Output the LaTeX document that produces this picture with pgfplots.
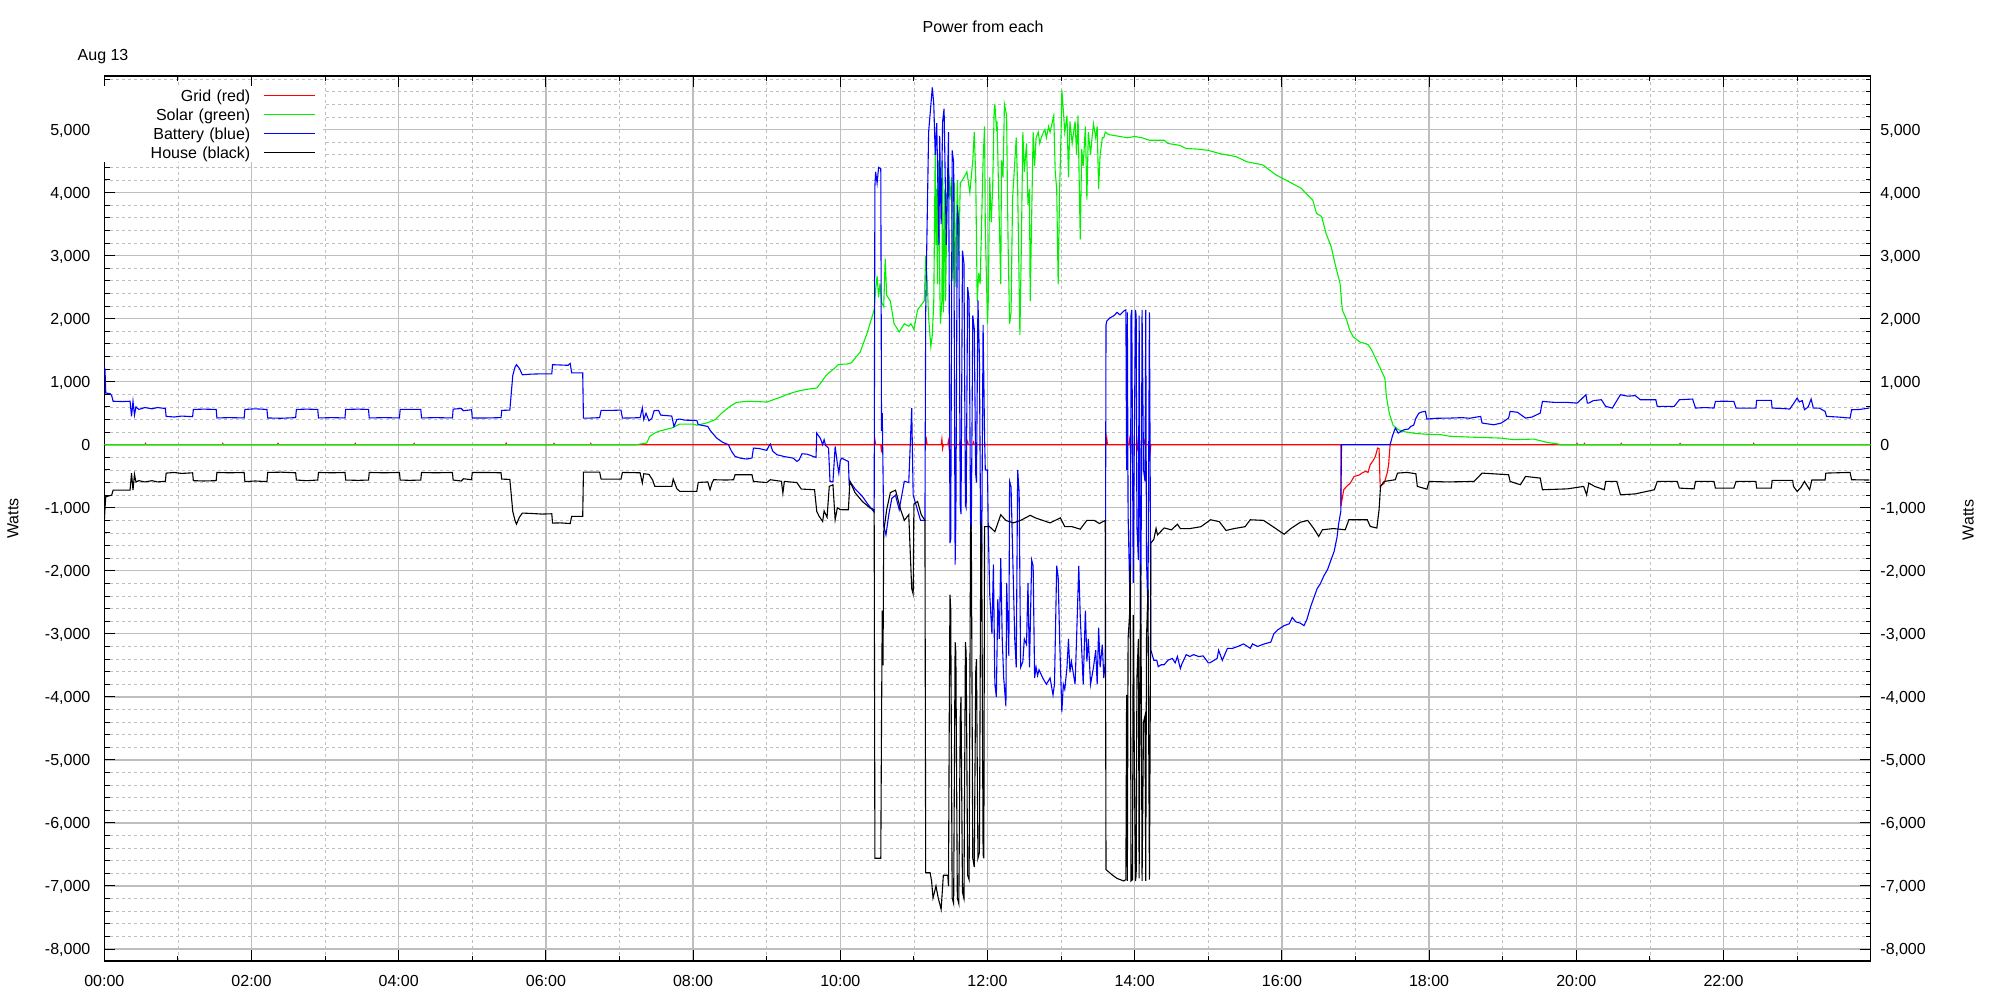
\documentclass[border=0pt]{standalone}
\usepackage{fontspec}
\setmainfont{Liberation Sans}
\usepackage{pgfplots}
\pgfplotsset{compat=1.18}
\definecolor{gpred}{RGB}{255,0,0}
\definecolor{gpgreen}{RGB}{0,240,0}
\definecolor{gpblue}{RGB}{0,0,255}
\definecolor{gridgray}{RGB}{190,190,190}
\begin{document}
\begin{tikzpicture}[font=\fontsize{8pt}{9.6pt}\selectfont]
\path[use as bounding box] (-52.15pt,-19.5pt) rectangle (947.85pt,480.5pt);
\begin{axis}[
  scale only axis, width=883.2pt, height=442.5pt,
  xmin=0, xmax=24, ymin=-8190, ymax=5850,
  xtick={0,2,...,22},
  xticklabels={00:00,02:00,04:00,06:00,08:00,10:00,12:00,14:00,16:00,18:00,20:00,22:00},
  minor xtick={1,3,...,23},
  ytick={-8000,-7000,...,5000},
  yticklabels={{-8,000},{-7,000},{-6,000},{-5,000},{-4,000},{-3,000},{-2,000},{-1,000},0,{1,000},{2,000},{3,000},{4,000},{5,000}},
  minor ytick={-8000,-7800,...,5800},
  grid=both,
  major grid style={draw=gridgray, line width=0.65pt},
  minor grid style={draw=gridgray, line width=0.4pt, dash pattern=on 1.5pt off 1.5pt},
  tick align=inside, xtick pos=both, ytick pos=both,
  xticklabel pos=lower, yticklabel pos=left,
  major tick length=5.3pt, minor tick length=2.6pt,
  tick style={black, line width=0.5pt},
  axis line style={black, line width=0.6pt},
  yticklabel style={anchor=east, inner sep=0pt, xshift=-6.8pt, text height=5.8pt, text depth=0pt},
  xticklabel style={anchor=north, inner sep=0pt, yshift=-6.65pt, text height=5.8pt, text depth=0pt},
  legend plot pos=right,
  legend image code/.code={\draw[#1] (0pt,0pt) -- (25.5pt,0pt); \path[draw=none] (0pt,0pt) -- (29.5pt,0pt);},
  legend style={at={(0,1)}, anchor=north west, yshift=-5pt, draw=none, fill=white,
    inner sep=0pt, outer sep=0pt, row sep=0pt, column sep=6.7pt,
    nodes={inner sep=0pt, text width=73pt, align=right, text height=7.6pt, text depth=1.9pt}},
  every axis plot/.append style={line width=0.55pt},
]
% Grid (red)
\addplot[gpred] coordinates {
(0,0) (0.55,0) (0.56,20) (0.57,0) (1.60,0) (1.61,20) (1.62,0) (2.35,0) (2.36,20) (2.37,0) (3.40,0) (3.41,20) (3.42,0)
(4.20,0) (4.21,20) (4.22,0) (5.45,0) (5.46,25) (5.47,0) (6.10,0) (6.11,20) (6.12,0) (6.60,0) (6.61,20) (6.62,0)
(10.46,0) (10.47,80) (10.48,0) (10.55,0) (10.56,-120) (10.57,0) (11.16,0) (11.17,80) (11.18,0)
(11.37,0) (11.38,90) (11.39,-60) (11.40,0) (11.46,0) (11.47,60) (11.48,-70) (11.49,0)
(11.62,0) (11.63,50) (11.64,-50) (11.65,0) (11.72,0) (11.73,50) (11.74,0) (11.80,0) (11.81,40) (11.82,0)
(13.61,0) (13.62,110) (13.63,0) (13.92,0) (13.93,80) (13.94,-50) (13.95,0) (14.02,0) (14.03,80) (14.04,-60) (14.05,0)
(14.12,0) (14.13,60) (14.14,0) (14.20,0) (14.21,-110) (14.22,0)
(16.80,0) (16.801,-979) (16.84,-714) (16.88,-660) (16.93,-608) (16.98,-503) (17.05,-480) (17.10,-440) (17.14,-423)
(17.17,-440) (17.20,-317) (17.24,-250) (17.27,-185) (17.30,-53) (17.32,-60) (17.335,-661) (17.39,-608) (17.43,-450)
(17.45,-317) (17.47,0) (20.00,0) (20.01,20) (20.02,0) (20.10,0) (20.11,20) (20.12,0) (20.60,0) (20.61,20) (20.62,0)
(21.40,0) (21.41,20) (21.42,0) (22.40,0) (22.41,20) (22.42,0) (24,0)
};
\addlegendentry{Grid (red)}
% Solar (green)
\addplot[gpgreen] coordinates {
(0,0) (7.05,0) (7.23,0) (7.30,15) (7.37,26) (7.41,132) (7.47,180) (7.53,212) (7.62,240) (7.71,265) (7.82,328) (8.00,328)
(8.05,310) (8.18,344) (8.30,397) (8.39,503) (8.50,608) (8.59,672) (8.70,685) (8.82,688) (9.00,677) (9.09,714) (9.18,750)
(9.27,794) (9.36,830) (9.45,857) (9.55,880) (9.68,900) (9.75,1005) (9.80,1090) (9.84,1137) (9.91,1200) (9.97,1270)
(10.05,1280) (10.09,1280) (10.15,1300) (10.27,1470) (10.37,1790) (10.46,2140) (10.48,2460) (10.50,2680) (10.52,2340)
(10.54,2560) (10.56,2260) (10.59,2190) (10.61,2950) (10.63,2370) (10.68,2280) (10.73,1920) (10.80,1790) (10.87,1920)
(10.93,1880) (10.96,1920) (11.00,1830) (11.05,2140) (11.14,2280) (11.16,2990) (11.18,2630) (11.20,2010) (11.23,1560)
(11.25,1740) (11.27,2280) (11.29,4690) (11.30,3170) (11.31,4060) (11.32,2550) (11.33,4510) (11.34,3440) (11.36,1920)
(11.38,2280) (11.39,4510) (11.40,2100) (11.42,4060) (11.43,2280) (11.45,3890) (11.47,4420) (11.49,3890) (11.51,4240)
(11.53,2600) (11.55,4150) (11.57,2500) (11.59,4200) (11.61,3000) (11.63,4150) (11.68,4240) (11.72,4330) (11.76,4000)
(11.80,4510) (11.82,4960) (11.84,4240) (11.86,2280) (11.88,2720) (11.90,2550) (11.94,4510) (11.96,5050) (11.97,3440)
(12.00,1920) (12.01,2280) (12.03,4240) (12.05,3530) (12.07,4060) (12.09,5310) (12.10,5400) (12.12,5050) (12.13,5130)
(12.15,4060) (12.18,2550) (12.19,4510) (12.21,4240) (12.23,5400) (12.26,5220) (12.27,4060) (12.28,3170) (12.30,1920)
(12.32,2100) (12.34,3890) (12.39,4870) (12.41,4060) (12.44,1740) (12.46,3170) (12.48,4960) (12.50,4330) (12.53,4780)
(12.55,3800) (12.57,4060) (12.58,2280) (12.62,4960) (12.64,4420) (12.66,4870) (12.69,4960) (12.71,4780) (12.73,4870)
(12.76,4960) (12.78,5000) (12.80,4870) (12.83,5050) (12.85,4960) (12.90,5220) (12.92,4330) (12.94,4060) (12.96,2545)
(12.98,4060) (13.00,4960) (13.01,5630) (13.03,5310) (13.05,4960) (13.08,5220) (13.10,4240) (13.12,5130) (13.15,4780)
(13.17,4960) (13.19,5130) (13.21,4600) (13.23,5220) (13.26,3260) (13.28,4690) (13.30,4420) (13.33,5050) (13.35,3890)
(13.37,4960) (13.40,4600) (13.42,4870) (13.44,5090) (13.47,4870) (13.49,5050) (13.51,4060) (13.53,4600) (13.56,4870)
(13.58,4870) (13.60,4960) (13.65,4920) (13.75,4900) (13.90,4870) (14.00,4890) (14.10,4870) (14.20,4830) (14.40,4830)
(14.45,4780) (14.61,4750) (14.70,4700) (14.85,4690) (15.00,4670) (15.15,4620) (15.38,4570) (15.52,4490) (15.74,4440)
(15.92,4280) (16.10,4170) (16.26,4070) (16.35,3960) (16.42,3880) (16.47,3670) (16.54,3620) (16.60,3350) (16.67,3140)
(16.72,2880) (16.79,2560) (16.82,2140) (16.88,1980) (16.92,1820) (16.97,1710) (17.06,1630) (17.17,1590) (17.22,1500)
(17.33,1230) (17.40,1050) (17.42,760) (17.46,495) (17.51,310) (17.58,240) (17.67,205) (17.83,177) (18.05,161) (18.16,159)
(18.28,135) (18.54,122) (18.97,106) (19.15,80) (19.42,90) (19.60,37) (19.76,10) (19.79,0) (24,0)
};
\addlegendentry{Solar (green)}
% Battery (blue)
\addplot[gpblue] coordinates {
(0.00,1250) (0.01,1180) (0.02,820) (0.08,810) (0.10,780) (0.12,690) (0.25,685) (0.35,690) (0.37,450) (0.39,690) (0.41,470)
(0.43,600) (0.47,560) (0.55,590) (0.65,570) (0.72,590) (0.83,575) (0.84,450) (0.95,440) (1.05,455) (1.20,445) (1.21,560)
(1.35,565) (1.52,560) (1.53,425) (1.70,430) (1.90,425) (1.91,560) (2.05,570) (2.21,560) (2.22,425) (2.40,420) (2.60,430)
(2.61,560) (2.75,565) (2.90,560) (2.91,425) (3.10,430) (3.27,425) (3.28,560) (3.45,565) (3.59,560) (3.60,425) (3.80,430)
(4.01,425) (4.02,560) (4.15,560) (4.30,560) (4.31,425) (4.50,430) (4.73,425) (4.74,565) (4.85,575) (4.88,540) (4.99,555)
(5.00,425) (5.20,425) (5.39,430) (5.40,545) (5.51,550) (5.55,1100) (5.58,1230) (5.60,1270) (5.64,1210) (5.68,1110)
(5.80,1120) (5.95,1125) (6.08,1125) (6.09,1270) (6.20,1265) (6.30,1260) (6.33,1290) (6.35,1140) (6.50,1140) (6.51,423)
(6.60,423) (6.73,430) (6.75,545) (6.90,545) (7.02,550) (7.04,423) (7.15,425) (7.28,430) (7.31,585) (7.33,400) (7.36,500)
(7.40,380) (7.44,420) (7.47,540) (7.53,545) (7.56,470) (7.71,455) (7.74,290) (7.78,400) (7.82,407) (7.89,390) (8.05,386)
(8.07,320) (8.20,290) (8.23,230) (8.32,106) (8.40,40) (8.48,0) (8.52,-100) (8.57,-185) (8.65,-215) (8.73,-227) (8.80,-210)
(8.82,-53) (8.90,-60) (9.00,-90) (9.03,-20) (9.05,10) (9.08,-100) (9.14,-159) (9.25,-190) (9.36,-212) (9.41,-265)
(9.44,-240) (9.48,-143) (9.55,-150) (9.63,-185) (9.67,-200) (9.68,185) (9.70,150) (9.73,100) (9.76,0) (9.78,80) (9.80,-10)
(9.84,-53) (9.86,-582) (9.90,-590) (9.93,-26) (9.96,-300) (9.98,-450) (10.00,-250) (10.02,-212) (10.08,-250) (10.11,-265)
(10.12,-610) (10.13,-580) (10.20,-700) (10.30,-820) (10.37,-937) (10.46,-1070) (10.47,4100) (10.48,4330) (10.50,4150)
(10.52,4400) (10.55,4380) (10.56,220) (10.57,500) (10.59,-1295) (10.62,-1430) (10.66,-1100) (10.70,-850) (10.75,-800)
(10.80,-1030) (10.87,-580) (10.93,-600) (10.97,580) (10.99,-800) (11.04,-1000) (11.09,-1200) (11.15,-1200) (11.16,2100)
(11.18,3530) (11.20,4960) (11.25,5670) (11.27,5400) (11.29,4600) (11.31,5100) (11.34,3170) (11.35,4900) (11.37,3500)
(11.39,5130) (11.41,5330) (11.44,3170) (11.47,4960) (11.48,2400) (11.49,-1560) (11.50,-1500) (11.52,4670) (11.54,4480)
(11.56,-1900) (11.57,-1200) (11.59,3800) (11.61,3500) (11.63,-960) (11.64,-1100) (11.66,3080) (11.68,2870) (11.70,-960)
(11.71,-1000) (11.73,2500) (11.75,2300) (11.77,-1250) (11.78,-1300) (11.80,2050) (11.82,1840) (11.84,-470) (11.85,-600)
(11.87,2290) (11.89,1390) (11.91,-2070) (11.92,-1900) (11.94,1900) (11.96,130) (11.97,-400) (12.00,-400)
(12.01,-1300) (12.03,-2370) (12.06,-3000) (12.08,-1900) (12.10,-3800)
(12.12,-4000) (12.14,-2450) (12.16,-3080) (12.18,-1800) (12.20,-3080) (12.22,-3700) (12.25,-4150) (12.26,-2190)
(12.27,-2600) (12.29,-3350) (12.30,-580) (12.32,-670) (12.37,-3080) (12.39,-3530) (12.41,-400) (12.43,-760) (12.45,-3530)
(12.48,-3440) (12.50,-3080) (12.53,-3170) (12.55,-2190) (12.57,-3530) (12.60,-1830) (12.62,-1920) (12.64,-3700)
(12.66,-3530) (12.68,-3660) (12.70,-3570) (12.75,-3700) (12.80,-3800) (12.85,-3700) (12.89,-3970) (12.91,-3800)
(12.94,-1920) (12.96,-2100) (12.98,-3080) (13.01,-4240) (13.03,-3800) (13.05,-3880) (13.08,-3530) (13.10,-3080)
(13.12,-3610) (13.14,-3440) (13.19,-3800) (13.21,-3080) (13.24,-1920) (13.26,-2720) (13.30,-3800) (13.33,-2630)
(13.35,-3440) (13.37,-3080) (13.40,-3800) (13.44,-3530) (13.47,-3260) (13.49,-3800) (13.51,-2900) (13.53,-3530)
(13.56,-3170) (13.58,-3700) (13.60,-3440) (13.61,1900) (13.62,1960) (13.66,2010) (13.72,2050) (13.76,2100) (13.80,2060)
(13.85,2120) (13.88,2140) (13.89,-400) (13.90,2100) (13.91,-1100) (13.93,-2190) (13.94,-3080) (13.95,2050) (13.96,2140)
(13.98,-2190) (13.99,-580) (14.01,2140) (14.02,2050) (14.03,-1300) (14.05,-1830) (14.06,2050) (14.08,-3080) (14.09,-940)
(14.10,2140) (14.12,-400) (14.14,-580) (14.15,2140) (14.16,-1830) (14.18,-2630) (14.20,2100) (14.21,-400) (14.22,-3260)
(14.26,-3420) (14.30,-3420) (14.32,-3520) (14.36,-3490) (14.40,-3490) (14.45,-3420) (14.51,-3390) (14.55,-3460)
(14.58,-3360) (14.62,-3550) (14.64,-3480) (14.70,-3330) (14.75,-3360) (14.80,-3330) (14.87,-3360) (14.93,-3350)
(15.00,-3460) (15.02,-3460) (15.12,-3390) (15.14,-3260) (15.19,-3420) (15.26,-3230) (15.33,-3230) (15.40,-3200)
(15.48,-3160) (15.57,-3230) (15.60,-3160) (15.67,-3200) (15.76,-3160) (15.85,-3130) (15.89,-3000) (15.94,-2940)
(16.03,-2870) (16.10,-2840) (16.14,-2740) (16.19,-2810) (16.25,-2830) (16.30,-2870) (16.34,-2770) (16.39,-2570)
(16.43,-2440) (16.48,-2280) (16.52,-2210) (16.57,-2080) (16.62,-1980) (16.66,-1850) (16.71,-1690) (16.75,-1460)
(16.77,-1260) (16.80,-1060) (16.81,0) (17.47,0) (17.50,132) (17.54,265) (17.58,185) (17.62,215) (17.66,238) (17.72,250)
(17.75,290) (17.79,310) (17.82,420) (17.86,500) (17.90,520) (17.95,530) (17.97,407) (18.10,420) (18.29,423) (18.45,430)
(18.55,420) (18.70,450) (18.72,344) (18.80,330) (18.88,317) (18.98,344) (19.08,423) (19.10,529) (19.20,515) (19.31,423)
(19.40,440) (19.51,503) (19.54,688) (19.70,672) (19.88,672) (20.01,660) (20.06,714) (20.13,794) (20.15,661) (20.17,661)
(20.23,700) (20.34,714) (20.40,608) (20.49,582) (20.53,661) (20.60,794) (20.70,770) (20.80,780) (20.87,714) (21.00,714)
(21.08,714) (21.10,608) (21.25,608) (21.33,608) (21.40,714) (21.58,725) (21.62,582) (21.75,590) (21.87,582) (21.89,688)
(22.00,690) (22.14,688) (22.17,582) (22.30,582) (22.44,582) (22.45,704) (22.55,704) (22.65,704) (22.66,582) (22.80,575)
(22.90,566) (22.95,650) (23.00,740) (23.03,680) (23.07,700) (23.10,555) (23.15,600) (23.19,725) (23.22,582) (23.30,582)
(23.38,529) (23.40,450) (23.55,440) (23.72,423) (23.74,555) (23.85,560) (23.98,582)
};
\addlegendentry{Battery (blue)}
% House (black)
\addplot[black] coordinates {
(0.00,-1220) (0.01,-1000) (0.02,-825) (0.10,-800) (0.12,-720) (0.35,-720) (0.37,-450) (0.39,-720) (0.41,-470) (0.43,-590)
(0.47,-570) (0.55,-590) (0.65,-570) (0.72,-590) (0.83,-580) (0.84,-450) (0.95,-440) (1.05,-455) (1.20,-445) (1.21,-570)
(1.35,-575) (1.52,-570) (1.53,-440) (1.70,-445) (1.90,-440) (1.91,-585) (2.05,-575) (2.21,-585) (2.22,-440) (2.40,-435)
(2.60,-445) (2.61,-560) (2.75,-570) (2.90,-560) (2.91,-440) (3.10,-445) (3.27,-440) (3.28,-560) (3.45,-565) (3.59,-560)
(3.60,-440) (3.80,-445) (4.01,-440) (4.02,-560) (4.15,-565) (4.30,-560) (4.31,-440) (4.50,-445) (4.73,-440) (4.74,-560)
(4.85,-575) (4.88,-540) (4.99,-555) (5.00,-440) (5.20,-440) (5.39,-445) (5.40,-545) (5.51,-550) (5.55,-1058) (5.58,-1200)
(5.60,-1260) (5.64,-1150) (5.68,-1084) (5.80,-1090) (5.95,-1100) (6.08,-1095) (6.09,-1243) (6.20,-1240) (6.33,-1250)
(6.35,-1137) (6.50,-1137) (6.51,-434) (6.73,-434) (6.75,-545) (7.02,-545) (7.04,-439) (7.28,-445) (7.31,-608) (7.33,-460)
(7.40,-470) (7.45,-560) (7.48,-661) (7.71,-661) (7.73,-545) (7.78,-700) (7.82,-740) (8.05,-740) (8.07,-598) (8.20,-590)
(8.23,-714) (8.26,-600) (8.28,-555) (8.45,-560) (8.55,-555) (8.57,-476) (8.80,-476) (8.82,-582) (9.00,-600) (9.05,-555)
(9.20,-580) (9.22,-767) (9.24,-582) (9.41,-600) (9.47,-703) (9.65,-714) (9.68,-1058) (9.71,-1130) (9.76,-1217) (9.78,-1050)
(9.82,-1150) (9.85,-661) (9.90,-635) (9.93,-1190) (9.96,-1000) (10.00,-1030) (10.04,-1031) (10.11,-1031) (10.13,-580)
(10.20,-760) (10.30,-900) (10.40,-1000) (10.46,-1030) (10.47,-6560) (10.55,-6560) (10.56,-4420) (10.57,-2630) (10.58,-3500)
(10.59,-1380) (10.63,-1030) (10.68,-760) (10.75,-720) (10.82,-1030) (10.87,-1200) (10.93,-1110) (10.97,-2280) (10.99,-2370)
(11.00,-940) (11.05,-900) (11.10,-1110) (11.15,-1200) (11.16,-6790) (11.22,-6790) (11.24,-6920) (11.26,-7190) (11.30,-7000)
(11.33,-7190) (11.37,-7370) (11.40,-6830) (11.46,-6830) (11.47,-7000) (11.48,-4420) (11.49,-2380) (11.50,-2600)
(11.52,-7190) (11.54,-7280) (11.56,-3130) (11.57,-3300) (11.59,-7190) (11.61,-7280) (11.63,-4320) (11.64,-4000)
(11.66,-7100) (11.68,-7200) (11.70,-3130) (11.71,-3300) (11.73,-6830) (11.75,-6900) (11.77,-1250) (11.78,-1400)
(11.80,-6560) (11.82,-6700) (11.84,-3600) (11.85,-3400) (11.87,-6560) (11.89,-6470) (11.91,-1250) (11.92,-1300)
(11.94,-6500) (11.95,-6560) (11.96,-1300) (12.00,-1300)
(12.02,-1290) (12.10,-1380) (12.18,-1110) (12.25,-1200) (12.35,-1240) (12.45,-1200) (12.58,-1120) (12.65,-1160)
(12.75,-1200) (12.85,-1240) (12.99,-1160) (13.05,-1300) (13.15,-1300) (13.26,-1340) (13.35,-1200) (13.45,-1200)
(13.52,-1250) (13.60,-1200) (13.61,-6740) (13.70,-6830) (13.76,-6880) (13.85,-6920) (13.88,-6900) (13.89,-3970)
(13.90,-6920) (13.91,-3080) (13.93,-2700) (13.94,-1900) (13.95,-6920) (13.97,-6900) (13.98,-2700) (13.99,-4300)
(14.01,-6920) (14.02,-6830) (14.03,-3700) (14.05,-3080) (14.06,-6880) (14.08,-1900) (14.09,-3900) (14.10,-6920)
(14.12,-4400) (14.14,-4300) (14.15,-6920) (14.16,-3080) (14.18,-2300) (14.20,-6900) (14.21,-4500) (14.22,-1560)
(14.26,-1500) (14.29,-1325) (14.31,-1430) (14.40,-1320) (14.50,-1350) (14.58,-1260) (14.62,-1330) (14.75,-1330)
(14.90,-1300) (15.03,-1190) (15.15,-1220) (15.24,-1360) (15.35,-1330) (15.50,-1300) (15.57,-1190) (15.75,-1200)
(15.91,-1325) (16.03,-1420) (16.12,-1330) (16.25,-1230) (16.35,-1200) (16.43,-1325) (16.50,-1455) (16.55,-1349)
(16.70,-1330) (16.86,-1349) (16.91,-1190) (17.16,-1190) (17.20,-1296) (17.29,-1322) (17.32,-1031) (17.34,-661)
(17.39,-582) (17.54,-555) (17.57,-450) (17.70,-439) (17.82,-460) (17.84,-661) (17.97,-704) (18.00,-582) (18.25,-590)
(18.61,-582) (18.72,-450) (19.08,-476) (19.10,-582) (19.24,-635) (19.31,-503) (19.51,-529) (19.54,-714) (19.88,-700)
(20.10,-661) (20.14,-794) (20.17,-608) (20.25,-661) (20.38,-714) (20.40,-582) (20.55,-582) (20.60,-794) (20.80,-780)
(21.06,-714) (21.10,-582) (21.37,-582) (21.40,-688) (21.60,-700) (21.62,-582) (21.87,-582) (21.89,-688) (22.14,-688)
(22.17,-582) (22.44,-582) (22.45,-688) (22.65,-688) (22.66,-566) (22.94,-566) (22.95,-661) (23.00,-740) (23.05,-680)
(23.10,-582) (23.17,-714) (23.20,-560) (23.38,-560) (23.39,-450) (23.72,-439) (23.74,-555) (23.98,-560)
};
\addlegendentry{House (black)}
\end{axis}
\begin{axis}[
  scale only axis, width=883.2pt, height=442.5pt,
  xmin=0, xmax=24, ymin=-8190, ymax=5850,
  axis x line=none, axis y line*=right,
  y axis line style={draw=none},
  ytick={-8000,-7000,...,5000},
  yticklabels={{-8,000},{-7,000},{-6,000},{-5,000},{-4,000},{-3,000},{-2,000},{-1,000},0,{1,000},{2,000},{3,000},{4,000},{5,000}},
  minor ytick={},
  ytick style={draw=none},
  yticklabel style={anchor=west, inner sep=0pt, xshift=4.65pt, text height=5.8pt, text depth=0pt},
]
\addplot[draw=none] coordinates {(0,0)};
\end{axis}
\node[rotate=90] at (-45.7pt,221.25pt) {Watts};
\node[rotate=90] at (931.9pt,220.5pt) {Watts};
\node at (439.4pt,467.1pt) {Power from each};
\node[anchor=west, inner sep=0pt] at (-13.5pt,452.25pt) {Aug 13};
\end{tikzpicture}
\end{document}
